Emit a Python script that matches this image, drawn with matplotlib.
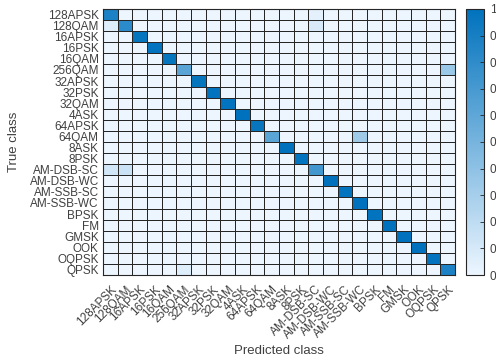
import numpy as np
import matplotlib
matplotlib.use('Agg')
import matplotlib.pyplot as plt
from matplotlib.colors import LinearSegmentedColormap
from matplotlib.ticker import FuncFormatter

plt.rcParams['font.family'] = ['Liberation Sans', 'DejaVu Sans']

classes = ['128APSK', '128QAM', '16APSK', '16PSK', '16QAM', '256QAM',
           '32APSK', '32PSK', '32QAM', '4ASK', '64APSK', '64QAM',
           '8ASK', '8PSK', 'AM-DSB-SC', 'AM-DSB-WC', 'AM-SSB-SC',
           'AM-SSB-WC', 'BPSK', 'FM', 'GMSK', 'OOK', 'OQPSK', 'QPSK']

# diagonal (correct) rates
diag_vals = [0.88, 0.82, 0.98, 0.99, 0.98, 0.62, 0.98, 0.99, 0.99, 1.00,
             0.97, 0.62, 1.00, 0.99, 0.72, 1.00, 0.99, 1.00, 0.99, 1.00,
             1.00, 1.00, 0.99, 0.88]

# visible confusions: (true row, predicted col, rate)
off_rows = [0, 1, 1, 5, 11, 14, 14, 23]
off_cols = [14, 0, 14, 23, 17, 0, 1, 5]
off_vals = [0.04, 0.06, 0.09, 0.35, 0.33, 0.12, 0.15, 0.06]

n = len(classes)
cm = np.zeros((n, n))
cm[np.arange(n), np.arange(n)] = diag_vals
cm[off_rows, off_cols] = off_vals

cmap = LinearSegmentedColormap.from_list('mblue', ['#EDF6FF', '#0072BD'])
txt = '#404040'
edge = '#262626'

fig = plt.figure(figsize=(4.96, 3.6), dpi=100)
ax = fig.add_axes([103 / 496, 85 / 360, 352 / 496, 266 / 360])
cax = fig.add_axes([466 / 496, 85 / 360, 18 / 496, 266 / 360])

mesh = ax.pcolormesh(cm, cmap=cmap, vmin=0, vmax=1,
                     edgecolors=edge, linewidth=0.55)
ax.set_xlim(0, n)
ax.set_ylim(n, 0)
ax.set_xticks(np.arange(n) + 0.5)
ax.set_yticks(np.arange(n) + 0.5)
ax.set_xticklabels(classes, rotation=45, ha='right', va='top',
                   rotation_mode='anchor', fontsize=8.5, color=txt)
ax.set_yticklabels(classes, fontsize=8.5, color=txt)
ax.tick_params(length=0, pad=3)
ax.tick_params(axis='x', pad=6)
for s in ax.spines.values():
    s.set_color(edge)
    s.set_linewidth(0.8)

# axis titles placed in figure coords so the long rotated ticks don't push them off
fig.text(279 / 496, 1 - 351 / 360, 'Predicted class', fontsize=9.5,
         color=txt, ha='center', va='center')
fig.text(14 / 496, 1 - 142 / 360, 'True class', fontsize=9.5,
         color=txt, ha='center', va='center', rotation=90)

cb = fig.colorbar(mesh, cax=cax, ticks=np.linspace(0, 1, 11))
cb.ax.yaxis.set_major_formatter(FuncFormatter(lambda v, p: '1' if v > 0.99 else '0'))
cb.ax.tick_params(direction='in', length=3, width=0.6, labelsize=8.5,
                  labelcolor=txt, color=edge, pad=4)
cb.outline.set_edgecolor(edge)
cb.outline.set_linewidth(0.8)

fig.savefig('out.png', dpi=100)
